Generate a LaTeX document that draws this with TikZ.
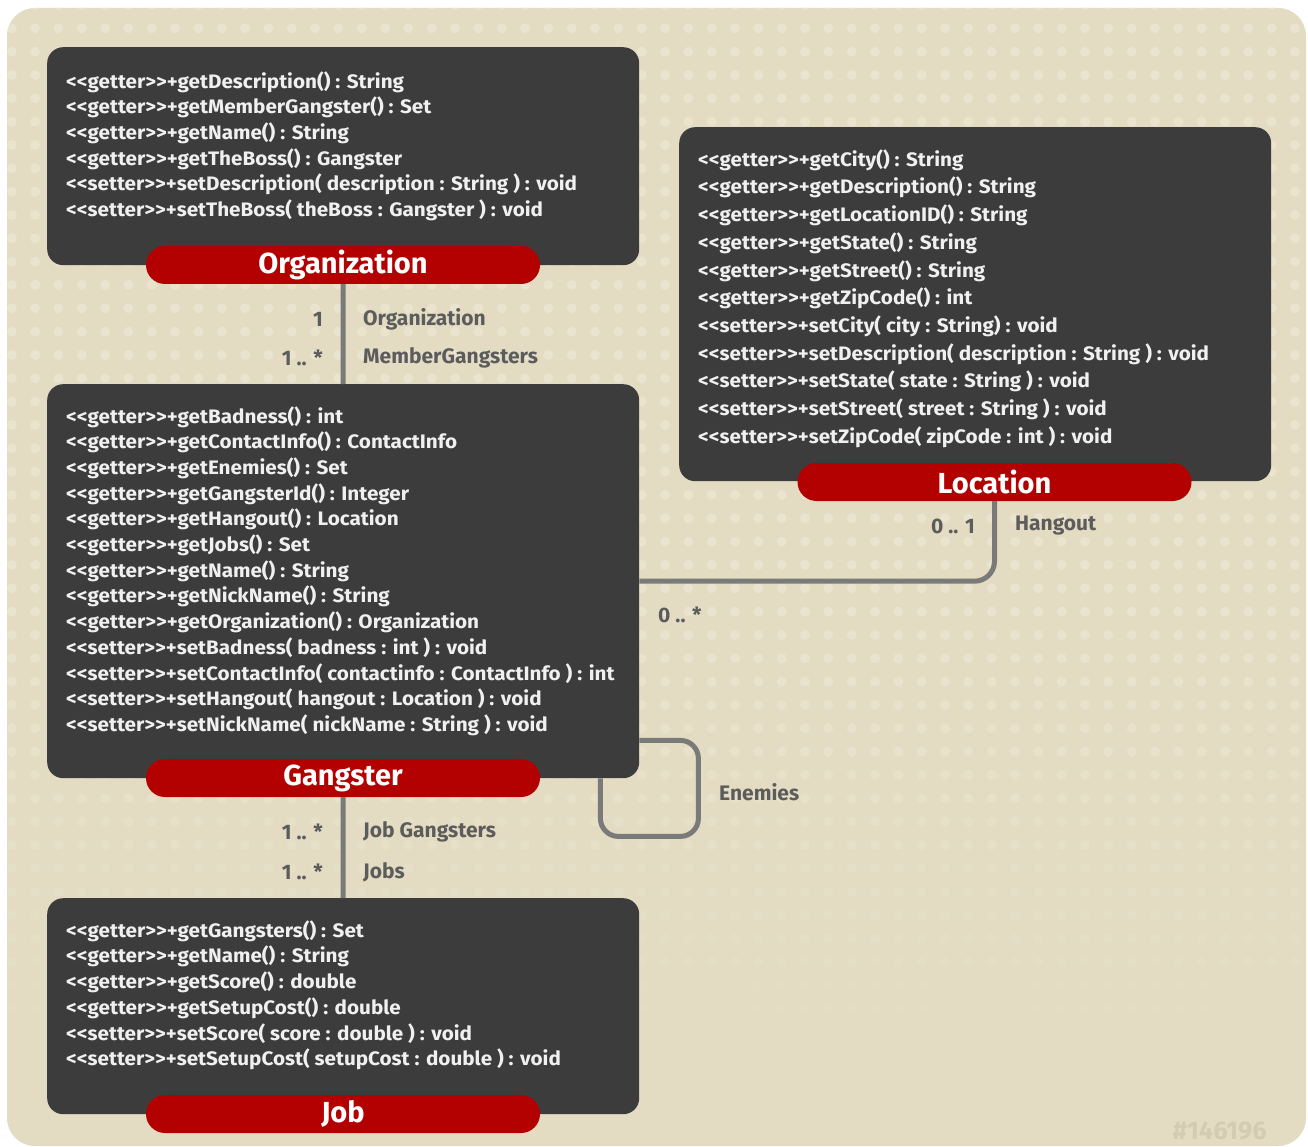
\documentclass[tikz,border=0pt]{standalone}
\usepackage{fontspec}
\setmainfont{Fira Sans}
\newfontfamily\memberfont{Fira Sans}[FakeStretch=1.06]
\definecolor{pagebg}{HTML}{E3DCC2}
\definecolor{dotc}{HTML}{EAE4CF}
\definecolor{boxc}{HTML}{3C3C3C}
\definecolor{pillc}{HTML}{B30000}
\definecolor{connc}{HTML}{7A7A7A}
\definecolor{labc}{HTML}{5C5C5C}
\definecolor{membc}{HTML}{F0F0F0}
\definecolor{wmark}{HTML}{D3CCB2}
\def\LL{<\kern0pt<}
\def\GG{>\kern0pt>}
\newcommand\mget[1]{\LL getter\GG+#1}
\newcommand\mset[1]{\LL setter\GG+#1}
\tikzset{
  classbox/.style={fill=boxc, rounded corners=16pt, anchor=north west, inner sep=0pt},
  pill/.style={fill=pillc, rounded corners=19pt, minimum width=394pt, minimum height=38pt, inner sep=0pt, text=white, font=\fontsize{29}{32}\selectfont\bfseries},
  member/.style={anchor=west, inner sep=0pt, text=membc, font=\memberfont\fontsize{19.5}{22}\selectfont\bfseries},
  conn/.style={draw=connc, line width=5pt},
  lab/.style={inner sep=0pt, text=labc, font=\fontsize{21}{24}\selectfont\bfseries},
}
\begin{document}
\begin{tikzpicture}[x=1pt,y=-1pt]
\useasboundingbox (0,0) rectangle (1308,1147);
\fill[white] (0,0) rectangle (1308,1147);
\fill[pagebg, rounded corners=28pt] (7,8) rectangle (1306,1146);
\begin{scope}
\clip[rounded corners=28pt] (7,8) rectangle (1306,1146);
\foreach \r in {0,...,48} {
  \pgfmathsetmacro\yy{5+23.33*\r}
  \pgfmathsetmacro\op{min(1,max(0,(1080-\yy)/450))}
  \foreach \c in {0,...,56} {
    \fill[dotc, opacity=\op] (11.8+23.33*\c,\yy) circle[radius=5pt];
  }
}
\end{scope}

% class boxes
\node[classbox, minimum width=592pt, minimum height=218pt] (org) at (47,47) {};
\node[classbox, minimum width=592pt, minimum height=354pt] (loc) at (679,127) {};
\node[classbox, minimum width=592pt, minimum height=394pt] (gang) at (47,384) {};
\node[classbox, minimum width=592pt, minimum height=216pt] (job) at (47,898) {};

% titles
\node[pill] (orgT) at (343,265) {Organization};
\node[pill] (locT) at (994.5,482) {Location};
\node[pill] (gangT) at (343,778) {Gangster};
\node[pill] (jobT) at (343,1114) {Job};

% connectors
\draw[conn] (orgT.south) -- (gang.north);
\draw[conn] (gangT.south) -- (job.north);
\draw[conn, rounded corners=20pt] (gang.east) -| (locT.south);
\draw[conn, rounded corners=18pt] ([yshift=38pt]gang.south east) -- ++(59,0) -- ++(0,96) -- ++(-98,0) -- ([xshift=-39pt]gang.south east);

% members
\foreach \t [count=\i] in {
  {\mget{getDescription() : String}},
  {\mget{getMemberGangster() : Set}},
  {\mget{getName() : String}},
  {\mget{getTheBoss() : Gangster}},
  {\mset{setDescription( description : String ) : void}},
  {\mset{setTheBoss( theBoss : Gangster ) : void}}}
  \node[member] (org-\i) at (66,{82+25.6*(\i-1)}) {\t};

\foreach \t [count=\i] in {
  {\mget{getCity() : String}},
  {\mget{getDescription() : String}},
  {\mget{getLocationID() : String}},
  {\mget{getState() : String}},
  {\mget{getStreet() : String}},
  {\mget{getZipCode() : int}},
  {\mset{setCity( city : String) : void}},
  {\mset{setDescription( description : String ) : void}},
  {\mset{setState( state : String ) : void}},
  {\mset{setStreet( street : String ) : void}},
  {\mset{setZipCode( zipCode : int ) : void}}}
  \node[member] (loc-\i) at (698,{160+27.7*(\i-1)}) {\t};

\foreach \t [count=\i] in {
  {\mget{getBadness() : int}},
  {\mget{getContactInfo() : ContactInfo}},
  {\mget{getEnemies() : Set}},
  {\mget{getGangsterId() : Integer}},
  {\mget{getHangout() : Location}},
  {\mget{getJobs() : Set}},
  {\mget{getName() : String}},
  {\mget{getNickName() : String}},
  {\mget{getOrganization() : Organization}},
  {\mset{setBadness( badness : int ) : void}},
  {\mset{setContactInfo( contactinfo : ContactInfo ) : int}},
  {\mset{setHangout( hangout : Location ) : void}},
  {\mset{setNickName( nickName : String ) : void}}}
  \node[member] (gang-\i) at (66,{417+25.67*(\i-1)}) {\t};

\foreach \t [count=\i] in {
  {\mget{getGangsters() : Set}},
  {\mget{getName() : String}},
  {\mget{getScore() : double}},
  {\mget{getSetupCost() : double}},
  {\mset{setScore( score : double ) : void}},
  {\mset{setSetupCost( setupCost : double ) : void}}}
  \node[member] (job-\i) at (66,{931+25.6*(\i-1)}) {\t};

% association labels
\node[lab, anchor=east] (l1) at (323,319) {1};
\node[lab, anchor=west] (l2) at (363,319) {Organization};
\node[lab, anchor=east] (l3) at (323,358) {1 .. *};
\node[lab, anchor=west] (l4) at (363,358) {MemberGangsters};
\node[lab, anchor=east] (l5) at (975,526) {0 .. 1};
\node[lab, anchor=west] (l6) at (1015,526) {Hangout};
\node[lab, anchor=west] (l7) at (658,615) {0 .. *};
\node[lab, anchor=west] (l8) at (719,792) {Enemies};
\node[lab, anchor=east] (l9) at (323,832) {1 .. *};
\node[lab, anchor=west] (l10) at (363,832) {Job Gangsters};
\node[lab, anchor=east] (l11) at (323,872) {1 .. *};
\node[lab, anchor=west] (l12) at (363,872) {Jobs};

\node[inner sep=0pt, anchor=east, text=wmark, font=\fontsize{25.5}{28}\selectfont\bfseries] (wm) at (1267,1131) {\#146196};
\end{tikzpicture}
\end{document}
